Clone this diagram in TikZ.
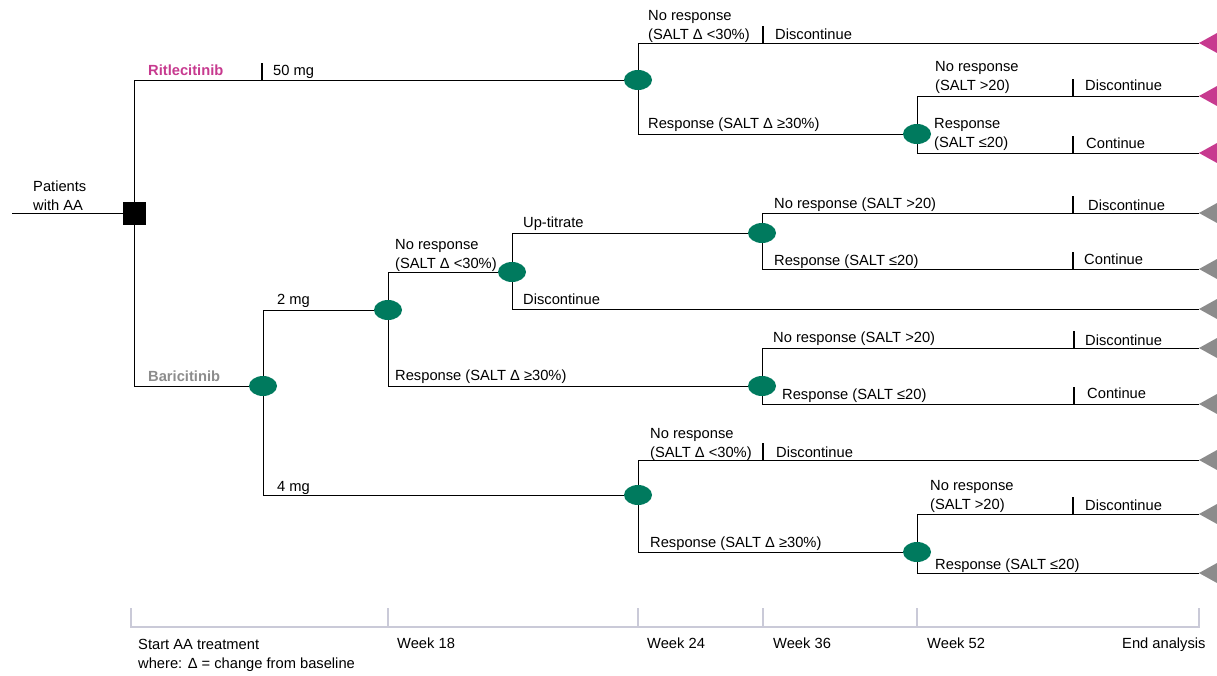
\documentclass[tikz,border=0pt]{standalone}
\usepackage{fontspec}
\setmainfont{Liberation Sans}
\usetikzlibrary{shapes.geometric,backgrounds}
\definecolor{ritpink}{HTML}{C73A8F}
\definecolor{barigray}{HTML}{8C8C8C}
\definecolor{chancegreen}{HTML}{007A5E}
\definecolor{axisgray}{HTML}{CACAD8}
\tikzstyle{decision} = [rectangle, fill=black, minimum size=23pt, inner sep=0pt]
\tikzstyle{chance} = [ellipse, fill=chancegreen, minimum width=28pt, minimum height=20pt, inner sep=0pt]
\tikzstyle{branch} = [line width=1.8pt]
\tikzstyle{lbl} = [anchor=base west, inner sep=0pt, align=left, font=\fontsize{14.7}{19}\selectfont]
\tikzstyle{drug} = [lbl, font=\fontsize{14.7}{19}\selectfont\bfseries]
\tikzstyle{axis} = [draw=axisgray, line width=1.2pt]

\begin{document}
\begin{tikzpicture}[x=1pt, y=-1pt]
    \useasboundingbox (0,0) rectangle (1217,675);
    % decision and chance nodes
    \node[decision] (root) at (134,213) {};
    \node[chance] (R1) at (638,80) {};
    \node[chance] (R2) at (917,134) {};
    \node[chance] (B) at (263,386) {};
    \node[chance] (B2) at (388,310) {};
    \node[chance] (B3) at (512,272) {};
    \node[chance] (B4) at (638,495) {};
    \node[chance] (B5) at (762,386) {};
    \node[chance] (B6) at (762,233) {};
    \node[chance] (B7) at (917,552) {};
    \coordinate (start) at (12,213);
    \coordinate (t1) at (1199,43); \coordinate (t2) at (1199,96); \coordinate (t3) at (1199,153);
    \coordinate (t4) at (1199,213); \coordinate (t5) at (1199,269); \coordinate (t6) at (1199,309);
    \coordinate (t7) at (1199,348); \coordinate (t8) at (1199,404); \coordinate (t9) at (1199,460);
    \coordinate (t10) at (1199,514); \coordinate (t11) at (1199,573);
    \begin{scope}[on background layer, branch]
        \draw (start) -- (root.center);
        \draw (root.center) |- (R1.center); \draw (root.center) |- (B.center);
        \draw (R1.center) |- (t1); \draw (R1.center) |- (R2.center);
        \draw (R2.center) |- (t2); \draw (R2.center) |- (t3);
        \draw (B.center) |- (B2.center); \draw (B.center) |- (B4.center);
        \draw (B2.center) |- (B3.center); \draw (B2.center) |- (B5.center);
        \draw (B3.center) |- (B6.center); \draw (B3.center) |- (t6);
        \draw (B6.center) |- (t4); \draw (B6.center) |- (t5);
        \draw (B5.center) |- (t7); \draw (B5.center) |- (t8);
        \draw (B4.center) |- (t9); \draw (B4.center) |- (B7.center);
        \draw (B7.center) |- (t10); \draw (B7.center) |- (t11);
    \end{scope}
    % end markers
    \foreach \t in {t1,t2,t3} {\fill[ritpink] (\t) -- ++(18,-10) -- ++(0,20) -- cycle;}
    \foreach \t in {t4,t5,t6,t7,t8,t9,t10,t11} {\fill[barigray] (\t) -- ++(18,-10) -- ++(0,20) -- cycle;}
    % ticks before the outcome
    \foreach \x/\y in {262/80, 763/43, 1073/96, 1073/153, 1073/213, 1073/269, 1074/348, 1074/404, 763/460, 1073/514}
        {\draw[branch] (\x,\y) -- ++(0,-17);}
    % labels
    \node[lbl] (pat) at (33,210) {Patients\\with AA};
    \node[drug, text=ritpink] (rit) at (148,75) {Ritlecitinib};
    \node[lbl] (d50) at (273,75) {50 mg};
    \node[drug, text=barigray] (bari) at (148,381) {Baricitinib};
    \node[lbl] (d2) at (277,304) {2 mg};
    \node[lbl] (d4) at (277,491) {4 mg};
    \node[lbl] (r1n) at (648,39) {No response\\(SALT Δ <30\%)};
    \node[lbl] (r1d) at (775,39) {Discontinue};
    \node[lbl] (r1r) at (648,128) {Response (SALT Δ ≥30\%)};
    \node[lbl] (r2n) at (935,90) {No response\\(SALT >20)};
    \node[lbl] (r2d) at (1085,90) {Discontinue};
    \node[lbl] (r2r) at (934,147) {Response\\(SALT ≤20)};
    \node[lbl] (r2c) at (1086,148) {Continue};
    \node[lbl] (b2n) at (395,268) {No response\\(SALT Δ <30\%)};
    \node[lbl] (b2r) at (395,380) {Response (SALT Δ ≥30\%)};
    \node[lbl] (b3u) at (523,227) {Up-titrate};
    \node[lbl] (b3d) at (523,304) {Discontinue};
    \node[lbl] (b6n) at (774,208) {No response (SALT >20)};
    \node[lbl] (b6d) at (1088,210) {Discontinue};
    \node[lbl] (b6r) at (774,265) {Response (SALT ≤20)};
    \node[lbl] (b6c) at (1084,264) {Continue};
    \node[lbl] (b5n) at (773,342) {No response (SALT >20)};
    \node[lbl] (b5d) at (1085,345) {Discontinue};
    \node[lbl] (b5r) at (782,399) {Response (SALT ≤20)};
    \node[lbl] (b5c) at (1087,398) {Continue};
    \node[lbl] (b4n) at (650,457) {No response\\(SALT Δ <30\%)};
    \node[lbl] (b4d) at (776,457) {Discontinue};
    \node[lbl] (b4r) at (650,547) {Response (SALT Δ ≥30\%)};
    \node[lbl] (b7n) at (930,509) {No response\\(SALT >20)};
    \node[lbl] (b7d) at (1085,510) {Discontinue};
    \node[lbl] (b7r) at (935,569) {Response (SALT ≤20)};
    % time axis
    \draw[axis] (131,608) -- (131,627) -- (1199,627) -- (1199,608);
    \foreach \x in {388,638,763,917} {\draw[axis] (\x,608) -- (\x,627);}
    \node[lbl] (w0) at (138,668) {Start AA treatment\\where: Δ = change from baseline};
    \node[lbl] (w18) at (397,648) {Week 18};
    \node[lbl] (w24) at (647,648) {Week 24};
    \node[lbl] (w36) at (773,648) {Week 36};
    \node[lbl] (w52) at (927,648) {Week 52};
    \node[lbl] (wend) at (1122,648) {End analysis};
\end{tikzpicture}
\end{document}
